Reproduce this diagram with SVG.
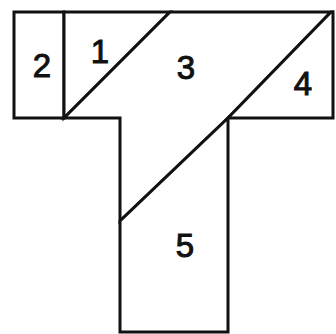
<svg xmlns="http://www.w3.org/2000/svg" width="336" height="334" viewBox="0 0 336 334">
<style>
.p{fill:#fff;stroke:#111;stroke-width:3;stroke-linejoin:miter}
.t{font-family:"Liberation Sans",Arial,sans-serif;font-size:33px;fill:#111;stroke:#111;stroke-width:1;text-anchor:middle}
</style>
<rect width="336" height="334" fill="#fff"/>
<g id="piece2"><polygon class="p" points="14,12 64,12 64,118 14,118"/><text class="t" x="42" y="77">2</text></g>
<g id="piece1"><polygon class="p" points="64,12 170,12 64,118"/><text class="t" x="100" y="63">1</text></g>
<g id="piece3"><polygon class="p" points="170,12 331,12 228,118 120,221 120,118 64,118"/><text class="t" x="186" y="79">3</text></g>
<g id="piece4"><polygon class="p" points="331,12 333,12 333,118 228,118"/><text class="t" x="303" y="95">4</text></g>
<g id="piece5"><polygon class="p" points="228,118 228,332 120,332 120,221"/><text class="t" x="185" y="257">5</text></g>
</svg>
